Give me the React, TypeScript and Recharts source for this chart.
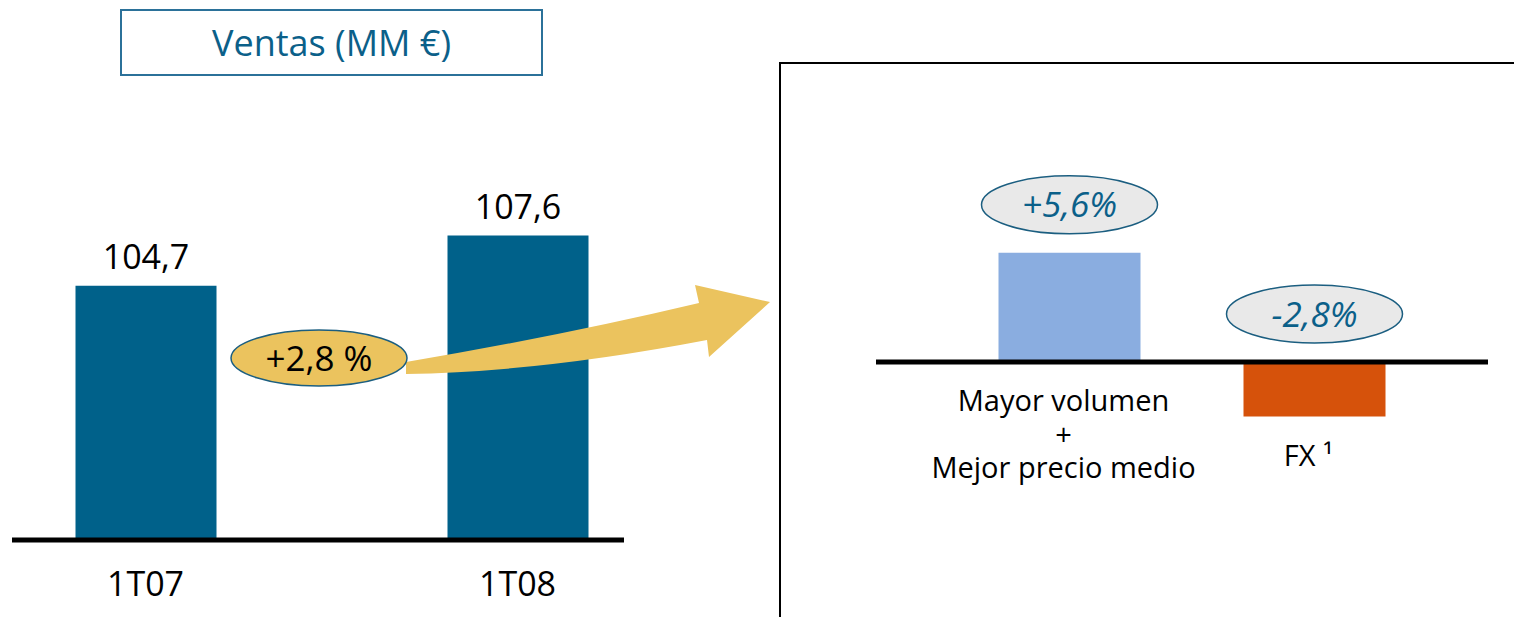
import { BarChart, Bar, XAxis, YAxis, Cell, LabelList, ReferenceLine } from 'recharts';

// Ventas (MM €)
const periods = ['1T07', '1T08'];
const sales = [104.7, 107.6];

// drivers of the change
const driverNames = ['Mayor volumen|+|Mejor precio medio', 'FX ¹'];
const driverChanges = [5.6, -2.8];
const driverColors = ['#8AADE0', '#D6520B'];

const FONT = '"Open Sans", sans-serif';
const WEIGHT = 500;
const BAR_BLUE = '#00618A';
const TITLE_BLUE = '#0B6089';

const salesData = periods.map((p, i) => ({ period: p, sales: sales[i] }));
const driverData = driverNames.map((n, i) => ({ name: n, change: driverChanges[i] }));

const fmt = (v: number) => v.toFixed(1).replace('.', ',');
const growth = (sales[1] / sales[0] - 1) * 100;

const ChangeBubble = (props: any) => {
  const x = Number(props.x);
  const y = Number(props.y);
  const w = Number(props.width);
  const h = Number(props.height);
  const value = Number(props.value);
  const cx = x + w / 2;
  const cy = Math.min(y, y + h) - 48;
  const txt = (value > 0 ? '+' : '') + fmt(value) + '%';
  return (
    <g>
      <ellipse cx={cx} cy={cy} rx={88} ry={29} fill="#E9E9E9" stroke="#1B5E80" strokeWidth={1.5} />
      <text
        x={cx}
        y={cy}
        dy="0.36em"
        textAnchor="middle"
        fontSize={35}
        fontStyle="italic"
        fontWeight={WEIGHT}
        fill={TITLE_BLUE}
        fontFamily={FONT}
      >
        {txt}
      </text>
    </g>
  );
};

const DriverName = (props: any) => {
  const x = Number(props.x);
  const y = Number(props.y);
  const w = Number(props.width);
  const h = Number(props.height);
  const cx = x + w / 2 - 6;
  const bottom = Math.max(y, y + h);
  const lines = String(props.value).split('|');
  return (
    <text textAnchor="middle" fontSize={29} fontWeight={WEIGHT} fill="#000" fontFamily={FONT}>
      {lines.map((l, i) => (
        <tspan key={i} x={cx} y={bottom + 39 + i * 33.5} dy="0.36em">
          {l}
        </tspan>
      ))}
    </text>
  );
};

export default function App() {
  return (
    <div
      style={{
        position: 'absolute', left: 0, top: 0, width: 1514, height: 617,
        overflow: 'hidden', background: '#fff', fontFamily: FONT,
      }}
    >
      <div
        style={{
          position: 'absolute', left: 120, top: 9, width: 423, height: 67, boxSizing: 'border-box',
          border: '2px solid #2B7199', color: TITLE_BLUE, fontSize: 36, fontWeight: WEIGHT,
          display: 'flex', alignItems: 'center', justifyContent: 'center',
        }}
      >
        Ventas (MM €)
      </div>

      <div style={{ position: 'absolute', left: 0, top: 0 }}>
        <BarChart width={640} height={617} data={salesData} margin={{ top: 194, right: 16, bottom: 0, left: 12 }}>
          <XAxis
            dataKey="period"
            height={77}
            padding={{ left: -52.5, right: -79.5 }}
            axisLine={{ stroke: '#000', strokeWidth: 5 }}
            tickLine={false}
            tickSize={0}
            tickMargin={32}
            interval={0}
            tick={{ fill: '#000', fontSize: 34, fontWeight: WEIGHT, fontFamily: FONT }}
          />
          <YAxis hide domain={[90, 110]} allowDataOverflow />
          <Bar dataKey="sales" fill={BAR_BLUE} barSize={141} isAnimationActive={false}>
            <LabelList
              dataKey="sales"
              position="top"
              offset={17}
              formatter={(v: any) => fmt(Number(v))}
              fill="#000"
              fontSize={34}
              fontWeight={WEIGHT}
              fontFamily={FONT}
            />
          </Bar>
        </BarChart>
      </div>

      <svg width={1514} height={617} style={{ position: 'absolute', left: 0, top: 0, pointerEvents: 'none' }}>
        <path
          d="M406,362 Q560,336 699,303 L695,285 L770,302 L709,357 L707,340 Q540,372 406,374 Z"
          fill="#EBC35E"
        />
        <ellipse cx={319} cy={358} rx={88} ry={28} fill="#EBC35E" stroke="#1B5E80" strokeWidth={1.5} />
        <text x={319} y={358} dy="0.36em" textAnchor="middle" fontSize={35} fontWeight={WEIGHT} fill="#000" fontFamily={FONT}>
          {'+' + fmt(growth) + ' %'}
        </text>
      </svg>

      <div
        style={{
          position: 'absolute', left: 779, top: 62, width: 800, height: 600,
          borderLeft: '2px solid #000', borderTop: '2px solid #000',
        }}
      />

      <div style={{ position: 'absolute', left: 790, top: 0 }}>
        <BarChart width={724} height={617} data={driverData} margin={{ top: 206, right: 26, bottom: 177, left: 86 }}>
          <XAxis dataKey="name" hide padding={{ left: 70.5, right: 51.5 }} />
          <YAxis hide domain={[-4, 8]} allowDataOverflow />
          <Bar dataKey="change" barSize={142} isAnimationActive={false}>
            {driverData.map((_, i) => (
              <Cell key={`cell-${i}`} fill={driverColors[i % driverColors.length]} />
            ))}
            <LabelList dataKey="change" content={ChangeBubble} />
            <LabelList dataKey="name" content={DriverName} />
          </Bar>
          <ReferenceLine y={0} stroke="#000" strokeWidth={5} />
        </BarChart>
      </div>
    </div>
  );
}
